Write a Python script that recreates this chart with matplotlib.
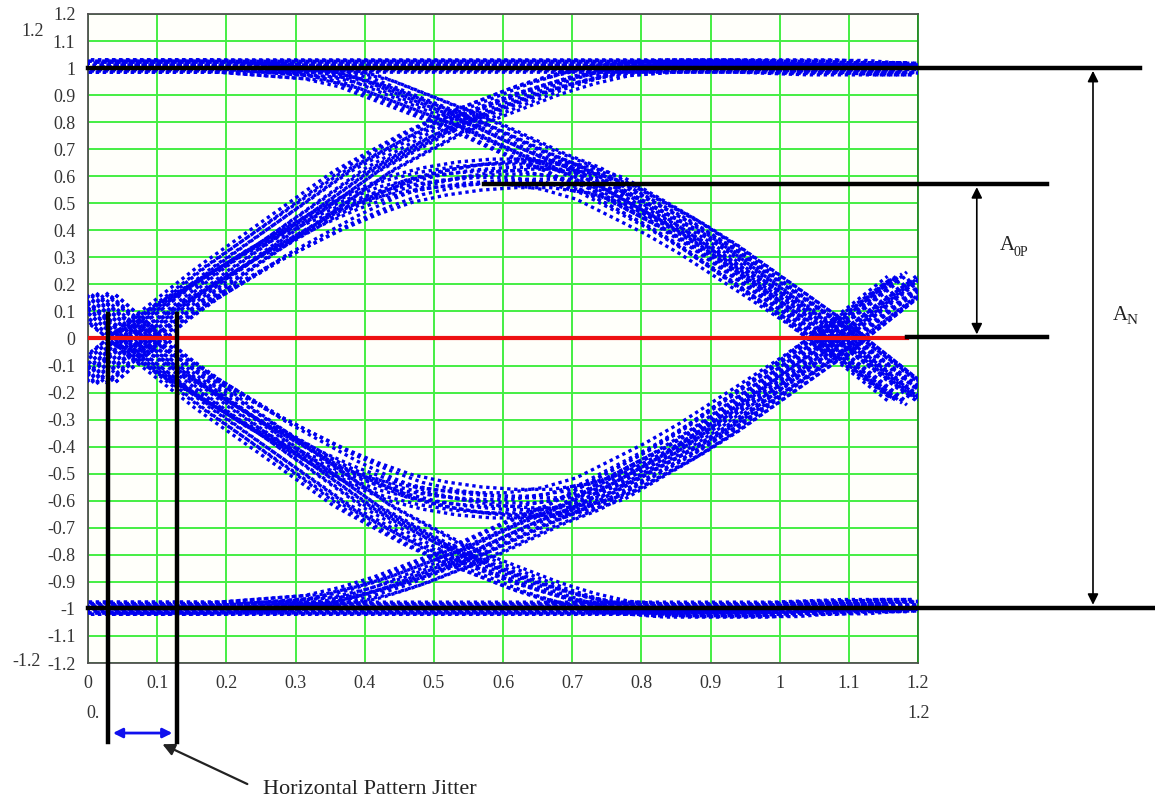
import numpy as np
import matplotlib
matplotlib.use("Agg")
import matplotlib.pyplot as plt

plt.rcParams['font.family'] = ['Liberation Serif', 'DejaVu Serif']

# sample positions (unit intervals)
t = [0.0, 0.05, 0.1, 0.15, 0.2, 0.25, 0.3, 0.35, 0.4, 0.45, 0.5, 0.55, 0.6,
     0.65, 0.7, 0.75, 0.8, 0.85, 0.9, 0.95, 1.0, 1.05, 1.1, 1.15, 1.2]

# trace families of the eye diagram
high_flat = [1.01, 1.01, 1.01, 1.01, 1.01, 1.01, 1.01, 1.01, 1.01, 1.01, 1.01, 1.01, 1.01,
             1.01, 1.01, 1.01, 1.01, 1.01, 1.01, 1.01, 1.005, 1.0, 1.0, 1.0, 1.0]
low_flat = [-1.0, -1.0, -1.0, -1.0, -1.0, -1.0, -1.0, -1.0, -1.0, -1.0, -1.0, -1.0, -1.0,
            -1.0, -1.0, -1.0, -1.0, -1.0, -1.0, -1.0, -1.0, -0.995, -0.99, -0.99, -0.99]
rise_full = [-0.16, -0.05, 0.06, 0.16, 0.26, 0.35, 0.44, 0.53, 0.62, 0.69, 0.76, 0.82, 0.87,
             0.92, 0.96, 0.99, 1.0, 1.01, 1.01, 1.01, 1.01, 1.01, 1.01, 1.0, 1.0]
fall_full = [0.16, 0.05, -0.06, -0.16, -0.26, -0.35, -0.44, -0.53, -0.62, -0.69, -0.76, -0.82, -0.87,
             -0.92, -0.96, -0.99, -1.0, -1.01, -1.01, -1.01, -1.01, -1.0, -1.0, -0.99, -0.99]
rise_peak = [-0.16, -0.05, 0.06, 0.15, 0.23, 0.31, 0.38, 0.45, 0.51, 0.56, 0.59, 0.61, 0.62,
             0.62, 0.6, 0.56, 0.49, 0.42, 0.34, 0.25, 0.16, 0.07, -0.03, -0.13, -0.23]
fall_peak = [0.16, 0.05, -0.06, -0.15, -0.23, -0.31, -0.38, -0.45, -0.51, -0.56, -0.59, -0.61, -0.62,
             -0.62, -0.6, -0.56, -0.49, -0.42, -0.34, -0.25, -0.16, -0.07, 0.03, 0.13, 0.23]
high_to_low = [1.01, 1.01, 1.01, 1.01, 1.01, 1.0, 0.99, 0.98, 0.95, 0.9, 0.85, 0.8, 0.74,
               0.68, 0.63, 0.56, 0.49, 0.42, 0.34, 0.25, 0.16, 0.07, -0.03, -0.13, -0.23]
low_to_high = [-1.0, -1.0, -1.0, -1.0, -1.0, -0.99, -0.98, -0.97, -0.94, -0.9, -0.85, -0.8, -0.74,
               -0.68, -0.63, -0.56, -0.49, -0.42, -0.34, -0.25, -0.16, -0.07, 0.03, 0.13, 0.23]

# spread of the repeated sweeps inside each band
jitter = [-0.044, -0.037, -0.03, -0.023, -0.016, -0.009, -0.002,
          0.005, 0.012, 0.019, 0.026, 0.033, 0.04]
amp_spread = [1.0, 0.98, 1.015, 0.99, 1.02, 0.975, 1.008, 0.985, 1.012, 0.995, 1.018, 0.982, 1.004]
peak_spread = [0.92, 0.96, 1.0, 1.04, 1.07, 0.94, 0.98, 1.02, 1.05, 0.9, 1.06, 0.95, 1.01]

ticks = [-1.2, -1.1, -1.0, -0.9, -0.8, -0.7, -0.6, -0.5, -0.4, -0.3, -0.2, -0.1, 0.0,
         0.1, 0.2, 0.3, 0.4, 0.5, 0.6, 0.7, 0.8, 0.9, 1.0, 1.1, 1.2]
ytick_labels = ['-1.2', '-1.1', '-1', '-0.9', '-0.8', '-0.7', '-0.6', '-0.5', '-0.4', '-0.3',
                '-0.2', '-0.1', '0', '0.1', '0.2', '0.3', '0.4', '0.5', '0.6', '0.7', '0.8',
                '0.9', '1', '1.1', '1.2']
xticks = [0.0, 0.1, 0.2, 0.3, 0.4, 0.5, 0.6, 0.7, 0.8, 0.9, 1.0, 1.1, 1.2]
xtick_labels = ['0', '0.1', '0.2', '0.3', '0.4', '0.5', '0.6', '0.7', '0.8', '0.9', '1', '1.1', '1.2']

a0p_level = 0.57
jitter_lo, jitter_hi = 0.029, 0.129

W, H = 1155, 808
fig = plt.figure(figsize=(W / 100, H / 100), dpi=100)
ax = fig.add_axes([88 / W, 1 - 663 / H, 830 / W, 649 / H])
ax.set_facecolor('#fffffa')

tt = np.array(t)
blue = '#0000f0'
dots = (0, (1, 1.1))
for k, dx in enumerate(jitter):
    s = amp_spread[k]
    p = peak_spread[k]
    for trace in (high_flat, low_flat, rise_full, fall_full, high_to_low, low_to_high):
        ax.plot(tt + dx, np.array(trace) * s, ls=dots, lw=2.4, color=blue, zorder=3)
    for trace in (rise_peak, fall_peak):
        ax.plot(tt + dx, np.array(trace) * p, ls=dots, lw=2.4, color=blue, zorder=3)

ax.set_xlim(0, 1.2)
ax.set_ylim(-1.2, 1.2)
ax.set_xticks(xticks)
ax.set_xticklabels(xtick_labels)
ax.set_yticks(ticks)
ax.set_yticklabels(ytick_labels)
ax.tick_params(length=0, labelsize=13, labelcolor='#333333', pad=9)
ax.grid(True, color='#44ee44', lw=1.4, zorder=1)
ax.set_axisbelow(True)
for sp in ax.spines.values():
    sp.set_color('#505050')
    sp.set_linewidth(1.3)
ax.spines['right'].set_color('#228822')

# reference levels and annotation lines
ax.plot([0, 1.184], [0, 0], color='#ee1111', lw=3, zorder=4)
ax.plot([0, 1.521], [1.0, 1.0], color='black', lw=3.2, zorder=5, clip_on=False)
ax.plot([0, 1.56], [-0.995, -0.995], color='black', lw=3.2, zorder=5, clip_on=False)
ax.plot([0.573, 1.386], [a0p_level, a0p_level], color='black', lw=3.2, zorder=5, clip_on=False)
ax.plot([1.184, 1.386], [0.005, 0.005], color='black', lw=3.2, zorder=5, clip_on=False)

ax.annotate('', xy=(1.285, a0p_level), xytext=(1.285, 0.005),
            arrowprops=dict(arrowstyle='<|-|>', color='black', lw=1.2, mutation_scale=16),
            annotation_clip=False)
ax.annotate('', xy=(1.453, 1.0), xytext=(1.453, -0.995),
            arrowprops=dict(arrowstyle='<|-|>', color='black', lw=1.2, mutation_scale=16),
            annotation_clip=False)

# horizontal jitter markers
for xv in (jitter_lo, jitter_hi):
    ax.plot([xv, xv], [0.09, -1.493], color='black', lw=3.2, zorder=5, clip_on=False)
ax.annotate('', xy=(jitter_lo + 0.003, -1.459), xytext=(jitter_hi - 0.003, -1.459),
            arrowprops=dict(arrowstyle='<|-|>', color='#1010ee', lw=2, mutation_scale=14),
            annotation_clip=False)
ax.annotate('', xy=(0.104, -1.496), xytext=(0.234, -1.652),
            arrowprops=dict(arrowstyle='-|>', color='#222222', lw=1.6, mutation_scale=18),
            annotation_clip=False)


def fx(px):
    return px / W


def fy(py):
    return 1 - py / H


fig.text(fx(263), fy(790), 'Horizontal Pattern Jitter', fontsize=16, color='#222222',
         ha='left', va='center')
fig.text(fx(1000), fy(246), 'A', fontsize=15, color='#222222', ha='left', va='center')
fig.text(fx(1014), fy(252), '0P', fontsize=10, color='#222222', ha='left', va='center')
fig.text(fx(1113), fy(315), 'A', fontsize=15, color='#222222', ha='left', va='center')
fig.text(fx(1127), fy(321), 'N', fontsize=11, color='#222222', ha='left', va='center')

# extra range labels
fig.text(fx(33), fy(31), '1.2', fontsize=13, color='#333333', ha='center', va='center')
fig.text(fx(27), fy(661), '-1.2', fontsize=13, color='#333333', ha='center', va='center')
fig.text(fx(86), fy(713), '0.', fontsize=13, color='#333333', ha='left', va='center')
fig.text(fx(919), fy(713), '1.2', fontsize=13, color='#333333', ha='center', va='center')

fig.savefig('out.png', dpi=100, facecolor='white')
